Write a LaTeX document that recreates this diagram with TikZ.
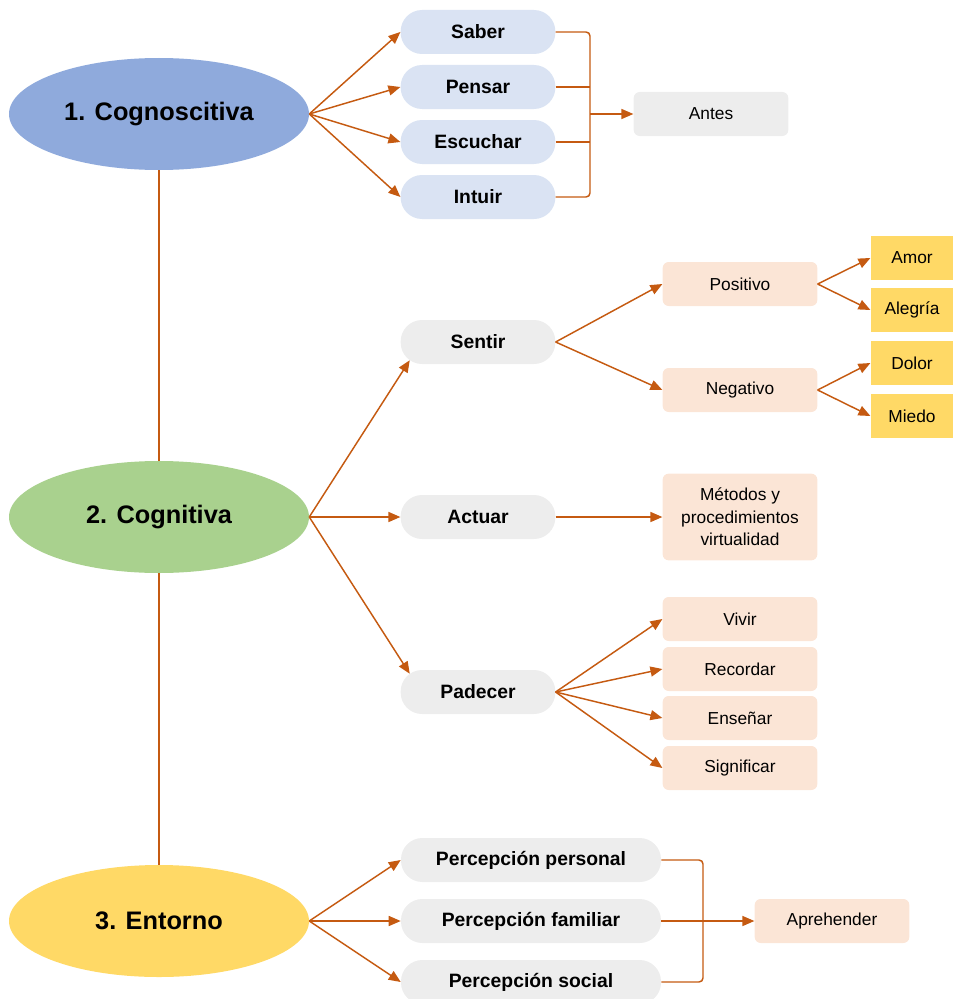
\documentclass[tikz,border=0pt]{standalone}
\usepackage{fontspec}
\setmainfont{Liberation Sans}
\usepackage{xcolor}
\usetikzlibrary{arrows.meta,shapes.geometric}
\definecolor{linkorange}{HTML}{C55A11}
\definecolor{blueaspect}{HTML}{8FAADC}
\definecolor{greenaspect}{HTML}{A9D18E}
\definecolor{yellowaspect}{HTML}{FFD966}
\definecolor{bluepill}{HTML}{DAE3F3}
\definecolor{graypill}{HTML}{EDEDED}
\definecolor{peach}{HTML}{FBE5D6}
\tikzset{
  aspect/.style={ellipse,fill=#1,minimum width=225pt,minimum height=84pt,inner sep=0pt,
    font=\fontsize{19}{22}\selectfont\bfseries},
  pill/.style={fill=#1,rounded corners=16pt,minimum width=116pt,minimum height=33pt,inner sep=0pt,
    font=\fontsize{14.5}{17}\selectfont\bfseries},
  soft/.style={fill=#1,rounded corners=4.5pt,minimum width=116pt,minimum height=33pt,inner sep=0pt,
    font=\fontsize{13}{17}\selectfont,align=center},
  tag/.style={fill=yellowaspect,minimum width=62pt,minimum height=33pt,inner sep=0pt,
    font=\fontsize{13}{17}\selectfont},
  link/.style={draw=linkorange,line width=1.1pt},
  arrow/.style={link,-{Triangle[length=9pt,width=7.5pt]}}
}
\begin{document}
\begin{tikzpicture}[x=0.75pt,y=-0.75pt]
  \useasboundingbox (0,0) rectangle (954,999);
  \node[aspect=blueaspect] (cognoscitiva) at (159,114) {1. Cognoscitiva};
  \node[aspect=greenaspect] (cognitiva) at (159,517) {2. Cognitiva};
  \node[aspect=yellowaspect] (entorno) at (159,921) {3. Entorno};
  \draw[link] (cognoscitiva) -- (cognitiva);
  \draw[link] (cognitiva) -- (entorno);

  \node[pill=bluepill] (saber) at (478,32) {Saber};
  \node[pill=bluepill] (pensar) at (478,87) {Pensar};
  \node[pill=bluepill] (escuchar) at (478,142) {Escuchar};
  \node[pill=bluepill] (intuir) at (478,197) {Intuir};
  \node[soft=graypill] (antes) at (711,114) {Antes};
  \foreach \n in {saber,pensar,escuchar,intuir}
    \draw[arrow] (cognoscitiva.east) -- (\n.west);
  \coordinate (antesjoin) at (590,114);
  \draw[link,rounded corners=3pt] (saber.east) -| (antesjoin) |- (intuir.east);
  \draw[link] (pensar.east) -- (pensar.east -| antesjoin);
  \draw[link] (escuchar.east) -- (escuchar.east -| antesjoin);
  \draw[arrow] (antesjoin) -- (antes);

  \node[pill=graypill] (sentir) at (478,342) {Sentir};
  \node[pill=graypill] (actuar) at (478,517) {Actuar};
  \node[pill=graypill] (padecer) at (478,692) {Padecer};
  \draw[arrow] (cognitiva.east) -- ([xshift=7pt,yshift=3pt]sentir.south west);
  \draw[arrow] (cognitiva.east) -- (actuar.west);
  \draw[arrow] (cognitiva.east) -- ([xshift=7pt,yshift=-3pt]padecer.north west);

  \node[soft=peach] (positivo) at (740,284) {Positivo};
  \node[soft=peach] (negativo) at (740,390) {Negativo};
  \node[tag] (amor) at (912,258) {Amor};
  \node[tag] (alegria) at (912,310) {Alegría};
  \node[tag] (dolor) at (912,363) {Dolor};
  \node[tag] (miedo) at (912,416) {Miedo};
  \draw[arrow] (sentir.east) -- (positivo.west);
  \draw[arrow] (sentir.east) -- (negativo.west);
  \draw[arrow] (positivo.east) -- (amor.west);
  \draw[arrow] (positivo.east) -- (alegria.west);
  \draw[arrow] (negativo.east) -- (dolor.west);
  \draw[arrow] (negativo.east) -- (miedo.west);

  \node[soft=peach,minimum height=65pt] (metodos) at (740,517)
    {Métodos y\\procedimientos\\virtualidad};
  \draw[arrow] (actuar.east) -- (metodos.west);

  \node[soft=peach] (vivir) at (740,619) {Vivir};
  \node[soft=peach] (recordar) at (740,669) {Recordar};
  \node[soft=peach] (ensenar) at (740,718) {Enseñar};
  \node[soft=peach] (significar) at (740,768) {Significar};
  \foreach \n in {vivir,recordar,ensenar,significar}
    \draw[arrow] (padecer.east) -- (\n.west);

  \node[pill=graypill,minimum width=195pt] (personal) at (531,860) {Percepción personal};
  \node[pill=graypill,minimum width=195pt] (familiar) at (531,921) {Percepción familiar};
  \node[pill=graypill,minimum width=195pt] (social) at (531,982) {Percepción social};
  \node[soft=peach] (aprehender) at (832,921) {Aprehender};
  \foreach \n in {personal,familiar,social}
    \draw[arrow] (entorno.east) -- (\n.west);
  \coordinate (aprehenderjoin) at (703,921);
  \draw[link,rounded corners=3pt] (personal.east) -| (aprehenderjoin) |- (social.east);
  \draw[arrow] (familiar.east) -- (aprehender.west);
\end{tikzpicture}
\end{document}
